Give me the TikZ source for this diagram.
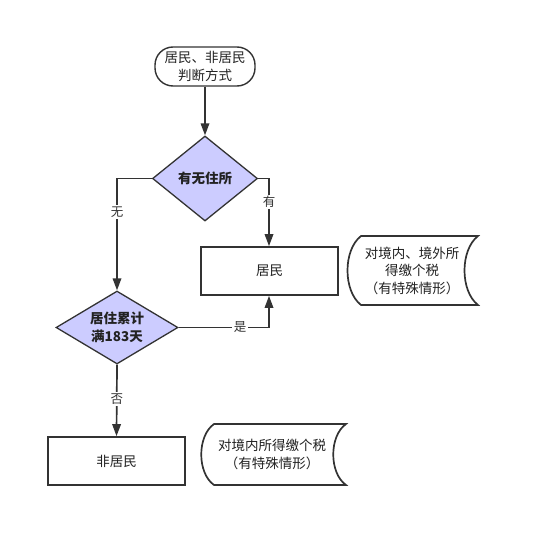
\documentclass[tikz,border=0pt]{standalone}
\usepackage{fontspec}
\setmainfont{Noto Sans CJK SC}
\usetikzlibrary{shapes.geometric,arrows.meta}
\definecolor{lc}{HTML}{333333}
\definecolor{lav}{HTML}{CCCCFF}
\definecolor{tc}{HTML}{222222}
\begin{document}
\begin{tikzpicture}[x=1pt,y=-1pt,
  conn/.style={draw=lc, line width=1.7pt},
  arr/.style={conn, -{Triangle[length=12pt,width=8.5pt]}},
  terminal/.style={draw=lc, line width=1.4pt, rounded corners=18pt, minimum width=100pt, minimum height=39pt, inner sep=0pt, align=center, font=\fontsize{13.5}{18}\selectfont, text=tc},
  decision/.style={diamond, draw=lc, fill=lav, line width=1.3pt, inner sep=0pt, align=center, font=\fontsize{13.5}{18}\selectfont\bfseries, text=tc},
  procbox/.style={draw=lc, line width=1.7pt, minimum width=137pt, minimum height=48pt, inner sep=0pt, font=\fontsize{13.5}{18}\selectfont, text=tc},
  sdtext/.style={inner sep=0pt, align=center, font=\fontsize{13.5}{17.5}\selectfont, text=tc},
  lbl/.style={fill=white, inner sep=1.5pt, font=\fontsize{12.5}{14}\selectfont, text=lc},
  sdline/.style={draw=lc, line width=1.7pt}
]
\useasboundingbox (0,0) rectangle (538,548);
\fill[white] (0,0) rectangle (538,548);

\node[terminal] (start) at (205,66.5) {居民、非居民\\判断方式};
\node[decision, minimum width=105pt, minimum height=85pt, aspect=1.235] (d1) at (205,178.5) {有无住所};
\node[procbox] (res) at (269.5,271) {居民};
\node[decision, minimum width=122pt, minimum height=73pt, aspect=1.67] (d2) at (117,327.5) {居住累计\\满183天};
\node[procbox] (nonres) at (116.5,461) {非居民};

% stored data 1
\node[sdtext] (sd1) at (412,270.5) {对境内、境外所\\得缴个税\\（有特殊情形）};
\draw[sdline] (361,236) -- (478,236) .. controls (460,250) and (460,291) .. (478,305) -- (361,305) .. controls (343,291) and (343,250) .. (361,236) -- cycle;
% stored data 2
\node[sdtext] (sd2) at (272,454.5) {对境内所得缴个税\\（有特殊情形）};
\draw[sdline] (214,424) -- (346,424) .. controls (329,436) and (329,473) .. (346,485) -- (214,485) .. controls (197,473) and (197,436) .. (214,424) -- cycle;

\coordinate (c1) at (269,178.5);
\coordinate (c2) at (117,178.5);
\coordinate (c3) at (269,327.5);

\draw[arr] (start.south) -- (d1.north);
\draw[arr] (d1.east) -- (c1) -- (c1 |- res.north) node[lbl, pos=0.35] {有};
\draw[arr] (d1.west) -- (c2) -- (d2.north) node[lbl, pos=0.3] {无};
\draw[arr] (d2.east) -- (c3) node[lbl, pos=0.68] {是} -- (c3 |- res.south);
\draw[arr] (d2.south) -- (nonres.north) node[lbl, pos=0.48] {否};
\end{tikzpicture}
\end{document}
